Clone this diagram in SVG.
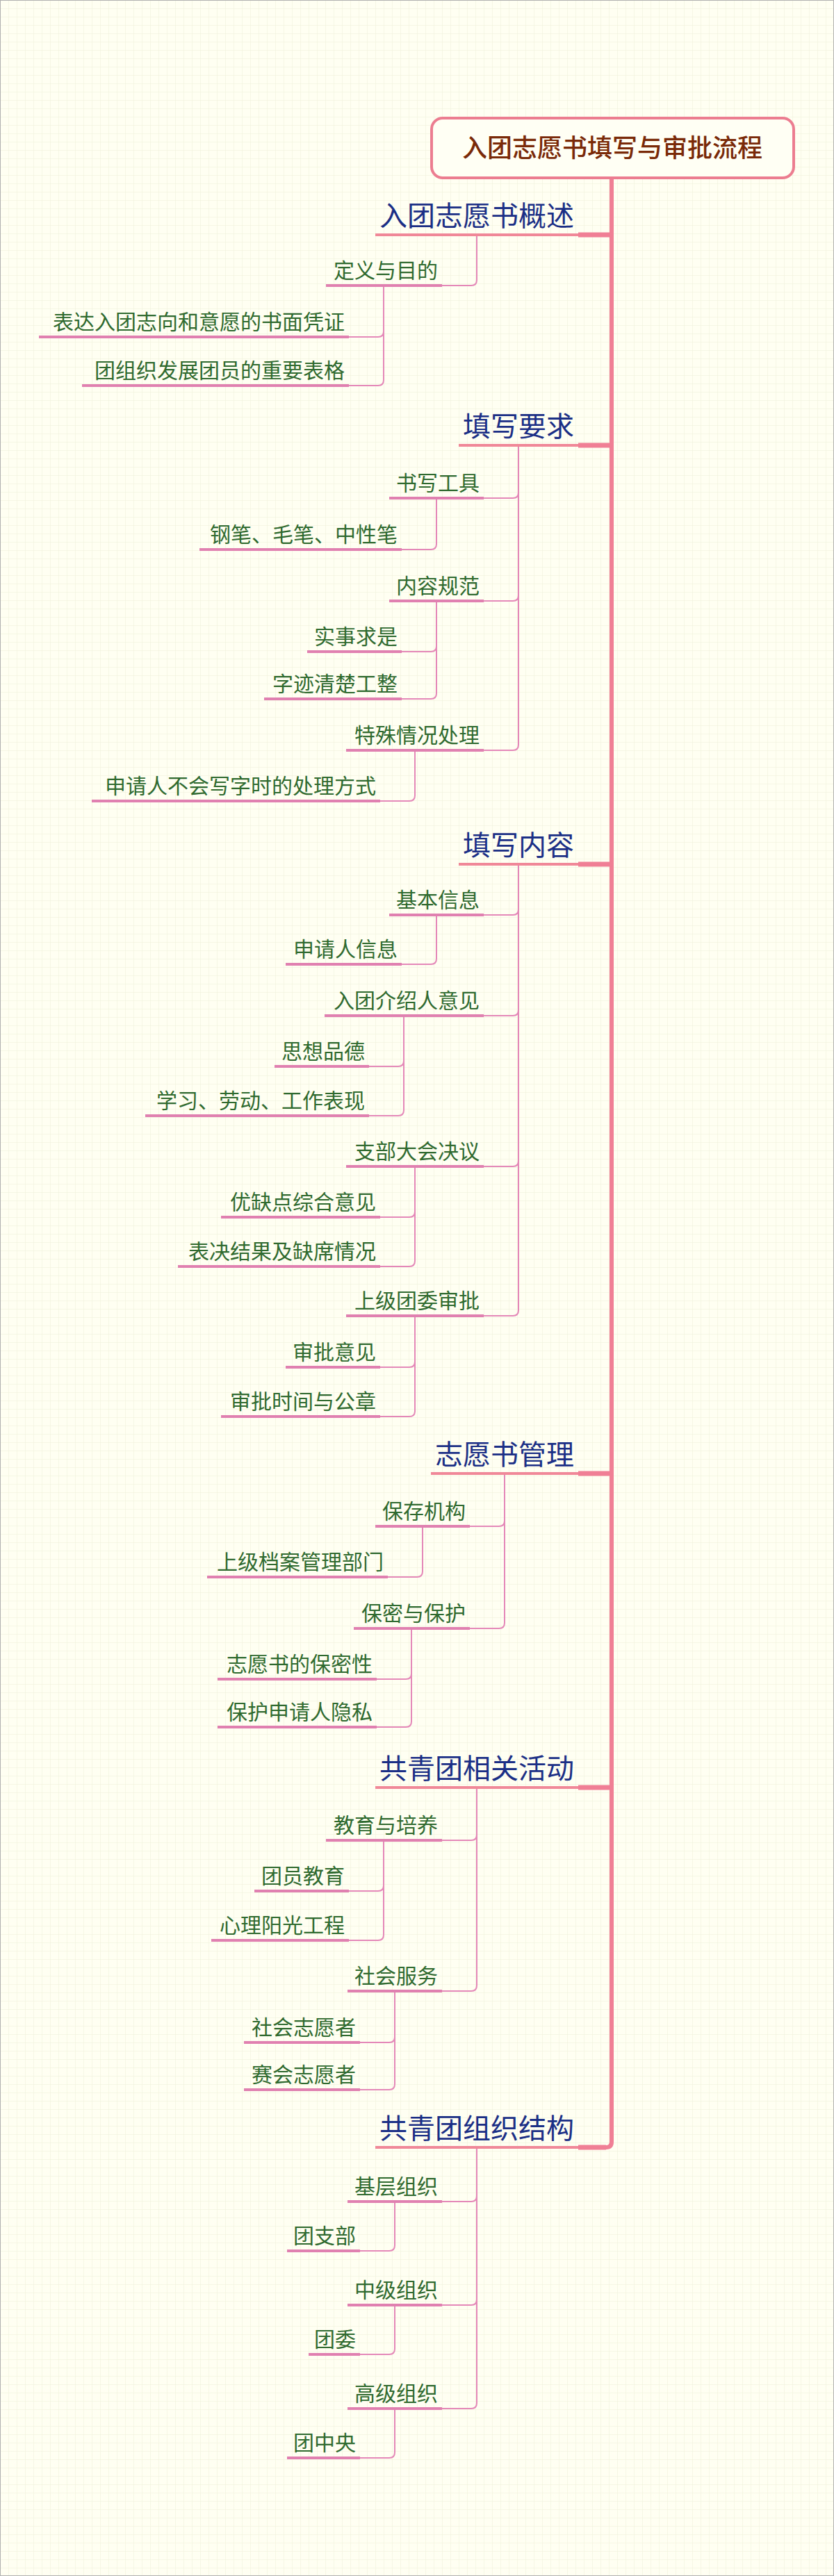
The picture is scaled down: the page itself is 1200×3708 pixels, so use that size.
<svg xmlns="http://www.w3.org/2000/svg" width="1200" height="3708" viewBox="0 0 1200 3708">
<defs>
<pattern id="grid" width="12" height="12" patternUnits="userSpaceOnUse"><path d="M12 0H0V12" fill="none" stroke="#eef0d8" stroke-width="1"/></pattern>
<style>
.root{font-family:"Noto Sans CJK SC",sans-serif;font-size:36px;fill:#7a2a08;font-weight:500}
.br{font-family:"Noto Sans CJK SC",sans-serif;font-size:40px;fill:#1b2f86;text-anchor:end}
.sb{font-family:"Noto Sans CJK SC",sans-serif;font-size:30px;fill:#2f6a2f;text-anchor:end}
.ulb{stroke:#f08898;stroke-width:4;fill:none}
.uls{stroke:#e080b0;stroke-width:4;fill:none}
.c{stroke:#e488b8;stroke-width:2;fill:none}
.tr{stroke:#f07f95;fill:none}
</style>
</defs>
<rect width="1200" height="3708" fill="#fffff2"/>
<rect width="1200" height="3708" fill="url(#grid)"/>
<rect x="0.5" y="0.5" width="1199" height="3707" fill="none" stroke="#b0b0b0"/>
<g id="connectors">
<path class="tr" stroke-width="6" d="M880 256V3083Q880 3091 872 3091"/>
<path class="tr" stroke-width="7" d="M832 338H880M832 641H880M832 1244H880M832 2121H880M832 2573H880M832 3091H872"/>
<path class="c" d="M686 338V403Q686 411 678 411H636"/>
<path class="c" d="M552 411V477Q552 485 544 485H502M552 411V547Q552 555 544 555H502"/>
<path class="c" d="M746 641V709Q746 717 738 717H696M746 641V857Q746 865 738 865H696M746 641V1072Q746 1080 738 1080H696"/>
<path class="c" d="M628 717V783Q628 791 620 791H578"/>
<path class="c" d="M628 865V930Q628 938 620 938H578M628 865V998Q628 1006 620 1006H578"/>
<path class="c" d="M597 1080V1145Q597 1153 589 1153H547"/>
<path class="c" d="M746 1244V1309Q746 1317 738 1317H696M746 1244V1454Q746 1462 738 1462H696M746 1244V1671Q746 1679 738 1679H696M746 1244V1886Q746 1894 738 1894H696"/>
<path class="c" d="M628 1317V1380Q628 1388 620 1388H578"/>
<path class="c" d="M581 1462V1527Q581 1535 573 1535H531M581 1462V1598Q581 1606 573 1606H531"/>
<path class="c" d="M597 1679V1744Q597 1752 589 1752H547M597 1679V1815Q597 1823 589 1823H547"/>
<path class="c" d="M597 1894V1960Q597 1968 589 1968H547M597 1894V2031Q597 2039 589 2039H547"/>
<path class="c" d="M726 2121V2189Q726 2197 718 2197H676M726 2121V2336Q726 2344 718 2344H676"/>
<path class="c" d="M608 2197V2262Q608 2270 600 2270H558"/>
<path class="c" d="M592 2344V2409Q592 2417 584 2417H542M592 2344V2478Q592 2486 584 2486H542"/>
<path class="c" d="M686 2573V2641Q686 2649 678 2649H636M686 2573V2858Q686 2866 678 2866H636"/>
<path class="c" d="M552 2649V2714Q552 2722 544 2722H502M552 2649V2785Q552 2793 544 2793H502"/>
<path class="c" d="M568 2866V2932Q568 2940 560 2940H518M568 2866V3000Q568 3008 560 3008H518"/>
<path class="c" d="M686 3091V3161Q686 3169 678 3169H636M686 3091V3310Q686 3318 678 3318H636M686 3091V3459Q686 3467 678 3467H636"/>
<path class="c" d="M568 3169V3232Q568 3240 560 3240H518"/>
<path class="c" d="M568 3318V3381Q568 3389 560 3389H518"/>
<path class="c" d="M568 3467V3530Q568 3538 560 3538H518"/>
</g>
<g id="root"><rect x="621" y="170" width="521" height="86" rx="16" fill="#fffff4" stroke="#ec7d90" stroke-width="4"/><text class="root" x="881" y="226" text-anchor="middle">入团志愿书填写与审批流程</text></g>
<g id="b1"><path class="ulb" d="M540 338H832"/><text class="br" x="826" y="325">入团志愿书概述</text></g>
<g id="n1"><path class="uls" d="M469 411H636"/><text class="sb" x="630" y="400">定义与目的</text></g>
<g id="n2"><path class="uls" d="M56 485H502"/><text class="sb" x="496" y="474">表达入团志向和意愿的书面凭证</text></g>
<g id="n3"><path class="uls" d="M118 555H502"/><text class="sb" x="496" y="544">团组织发展团员的重要表格</text></g>
<g id="b2"><path class="ulb" d="M660 641H832"/><text class="br" x="826" y="628">填写要求</text></g>
<g id="n4"><path class="uls" d="M560 717H696"/><text class="sb" x="690" y="706">书写工具</text></g>
<g id="n5"><path class="uls" d="M287 791H578"/><text class="sb" x="572" y="780">钢笔、毛笔、中性笔</text></g>
<g id="n6"><path class="uls" d="M560 865H696"/><text class="sb" x="690" y="854">内容规范</text></g>
<g id="n7"><path class="uls" d="M442 938H578"/><text class="sb" x="572" y="927">实事求是</text></g>
<g id="n8"><path class="uls" d="M380 1006H578"/><text class="sb" x="572" y="995">字迹清楚工整</text></g>
<g id="n9"><path class="uls" d="M498 1080H696"/><text class="sb" x="690" y="1069">特殊情况处理</text></g>
<g id="n10"><path class="uls" d="M132 1153H547"/><text class="sb" x="541" y="1142">申请人不会写字时的处理方式</text></g>
<g id="b3"><path class="ulb" d="M660 1244H832"/><text class="br" x="826" y="1231">填写内容</text></g>
<g id="n11"><path class="uls" d="M560 1317H696"/><text class="sb" x="690" y="1306">基本信息</text></g>
<g id="n12"><path class="uls" d="M411 1388H578"/><text class="sb" x="572" y="1377">申请人信息</text></g>
<g id="n13"><path class="uls" d="M467 1462H696"/><text class="sb" x="690" y="1451">入团介绍人意见</text></g>
<g id="n14"><path class="uls" d="M395 1535H531"/><text class="sb" x="525" y="1524">思想品德</text></g>
<g id="n15"><path class="uls" d="M209 1606H531"/><text class="sb" x="525" y="1595">学习、劳动、工作表现</text></g>
<g id="n16"><path class="uls" d="M498 1679H696"/><text class="sb" x="690" y="1668">支部大会决议</text></g>
<g id="n17"><path class="uls" d="M318 1752H547"/><text class="sb" x="541" y="1741">优缺点综合意见</text></g>
<g id="n18"><path class="uls" d="M256 1823H547"/><text class="sb" x="541" y="1812">表决结果及缺席情况</text></g>
<g id="n19"><path class="uls" d="M498 1894H696"/><text class="sb" x="690" y="1883">上级团委审批</text></g>
<g id="n20"><path class="uls" d="M411 1968H547"/><text class="sb" x="541" y="1957">审批意见</text></g>
<g id="n21"><path class="uls" d="M318 2039H547"/><text class="sb" x="541" y="2028">审批时间与公章</text></g>
<g id="b4"><path class="ulb" d="M620 2121H832"/><text class="br" x="826" y="2108">志愿书管理</text></g>
<g id="n22"><path class="uls" d="M540 2197H676"/><text class="sb" x="670" y="2186">保存机构</text></g>
<g id="n23"><path class="uls" d="M298 2270H558"/><text class="sb" x="552" y="2259">上级档案管理部门</text></g>
<g id="n24"><path class="uls" d="M509 2344H676"/><text class="sb" x="670" y="2333">保密与保护</text></g>
<g id="n25"><path class="uls" d="M313 2417H542"/><text class="sb" x="536" y="2406">志愿书的保密性</text></g>
<g id="n26"><path class="uls" d="M313 2486H542"/><text class="sb" x="536" y="2475">保护申请人隐私</text></g>
<g id="b5"><path class="ulb" d="M540 2573H832"/><text class="br" x="826" y="2560">共青团相关活动</text></g>
<g id="n27"><path class="uls" d="M469 2649H636"/><text class="sb" x="630" y="2638">教育与培养</text></g>
<g id="n28"><path class="uls" d="M366 2722H502"/><text class="sb" x="496" y="2711">团员教育</text></g>
<g id="n29"><path class="uls" d="M304 2793H502"/><text class="sb" x="496" y="2782">心理阳光工程</text></g>
<g id="n30"><path class="uls" d="M500 2866H636"/><text class="sb" x="630" y="2855">社会服务</text></g>
<g id="n31"><path class="uls" d="M351 2940H518"/><text class="sb" x="512" y="2929">社会志愿者</text></g>
<g id="n32"><path class="uls" d="M351 3008H518"/><text class="sb" x="512" y="2997">赛会志愿者</text></g>
<g id="b6"><path class="ulb" d="M540 3091H832"/><text class="br" x="826" y="3078">共青团组织结构</text></g>
<g id="n33"><path class="uls" d="M500 3169H636"/><text class="sb" x="630" y="3158">基层组织</text></g>
<g id="n34"><path class="uls" d="M413 3240H518"/><text class="sb" x="512" y="3229">团支部</text></g>
<g id="n35"><path class="uls" d="M500 3318H636"/><text class="sb" x="630" y="3307">中级组织</text></g>
<g id="n36"><path class="uls" d="M444 3389H518"/><text class="sb" x="512" y="3378">团委</text></g>
<g id="n37"><path class="uls" d="M500 3467H636"/><text class="sb" x="630" y="3456">高级组织</text></g>
<g id="n38"><path class="uls" d="M413 3538H518"/><text class="sb" x="512" y="3527">团中央</text></g>
</svg>
